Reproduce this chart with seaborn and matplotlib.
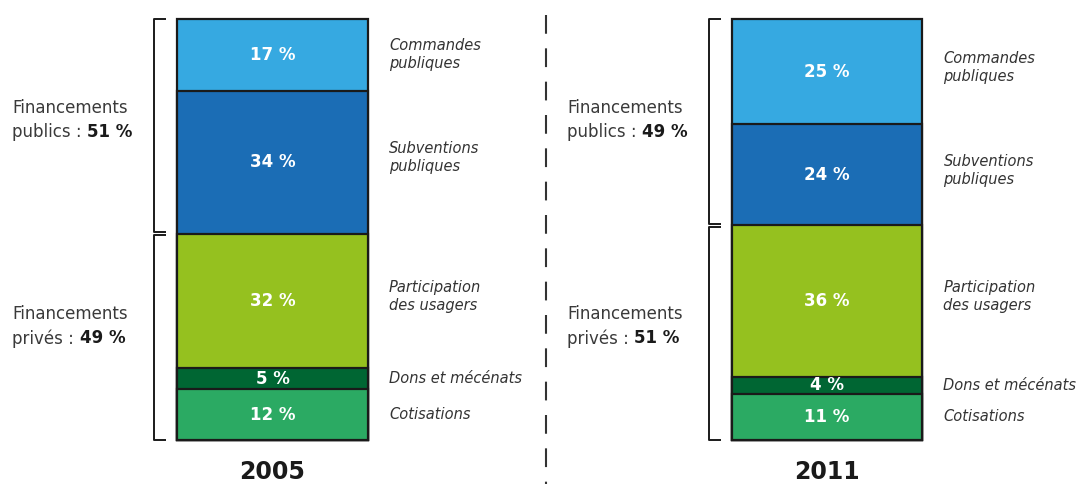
import numpy as np
import pandas as pd
import matplotlib
matplotlib.use("Agg")
import matplotlib.pyplot as plt
import seaborn as sns

# data, bottom to top
years = ["2005", "2011"]
segments = ["Cotisations", "Dons et mécénats", "Participation\ndes usagers",
            "Subventions\npubliques", "Commandes\npubliques"]
values_2005 = [12, 5, 32, 34, 17]
values_2011 = [11, 4, 36, 24, 25]
colors = ["#2BAA63", "#006633", "#95C11F", "#1B6DB5", "#36A9E1"]
prives = [49, 51]
publics = [51, 49]

sns.set_theme(style="white")
plt.rcParams["font.family"] = ["DejaVu Sans"]

fig = plt.figure(figsize=(10.79, 4.84), dpi=100)
ax = fig.add_axes([0, 0, 1, 1])

vals = np.array([values_2005, values_2011])  # shape (2, 5)
tops = vals.cumsum(axis=1)
bottoms = tops - vals

bar_w = 0.343
# draw the cumulative totals from the top down so each segment overlaps the next
for i in range(len(segments) - 1, -1, -1):
    df = pd.DataFrame({"year": years, "top": tops[:, i]})
    sns.barplot(data=df, x="year", y="top", color=colors[i], width=bar_w,
                edgecolor="#1a1a1a", linewidth=1.6, saturation=1, ax=ax)

for j, yr in enumerate(years):
    for i, seg in enumerate(segments):
        mid = bottoms[j, i] + vals[j, i] / 2
        ax.text(j, mid, f"{vals[j, i]} %", color="white", weight="bold",
                fontsize=12, ha="center", va="center")
        ax.text(j + 0.21, mid + (1.0 if vals[j, i] > 20 else 0), seg,
                style="italic", fontsize=10.5, color="#333333",
                ha="left", va="center", linespacing=1.25)
    ax.text(j, -7.5, yr, weight="bold", fontsize=17, ha="center",
            va="center", color="#1a1a1a")

    # brackets
    bx = j - bar_w / 2 - 0.042
    tick = 0.022
    p_lo = prives[j]
    for lo, hi in [(0, p_lo - 0.3), (p_lo + 0.3, 100)]:
        ax.plot([bx + tick, bx, bx, bx + tick], [lo, lo, hi, hi],
                color="#1a1a1a", lw=1.4, solid_capstyle="butt")

    # left group labels
    lx = j - 0.469
    for label, share, ymid in [("publics : ", publics[j], 76.0),
                               ("privés : ", prives[j], 27.0)]:
        ax.text(lx, ymid + 2.85, "Financements", fontsize=12, color="#3a3a3a",
                ha="left", va="center")
        t = ax.text(lx, ymid - 2.85, label, fontsize=12, color="#3a3a3a",
                    ha="left", va="center")
        ax.annotate(f"{share} %", xy=(1, 0.5), xycoords=t, va="center",
                    ha="left", fontsize=12, weight="bold", color="#1a1a1a")

# dashed separator, drawn top down so the pattern starts at the top
ax.plot([0.493, 0.493], [101, -10.5], color="#333333", lw=1.5,
        linestyle=(0, (9, 7)))

ax.set_xlim(-0.4914, 1.4545)
ax.set_ylim(-10.45, 104.5)
ax.axis("off")

fig.savefig("out.png", dpi=100)
